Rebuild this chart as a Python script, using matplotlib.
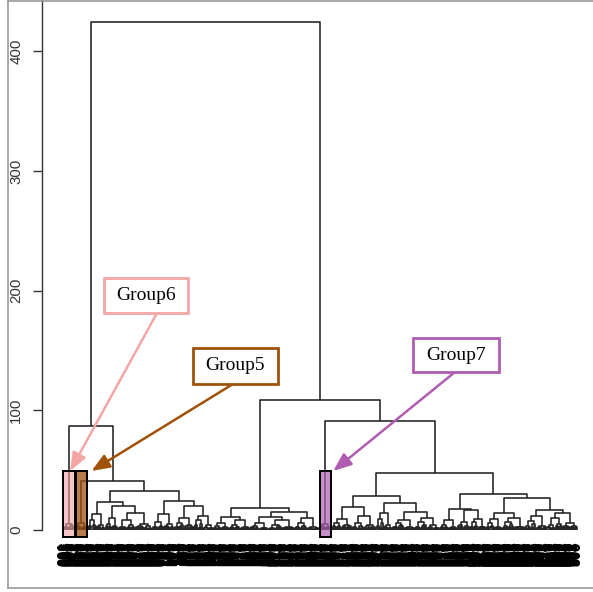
import matplotlib
matplotlib.use("Agg")
import matplotlib.pyplot as plt
from matplotlib.collections import LineCollection
from matplotlib.patches import Rectangle
from matplotlib.lines import Line2D

# ---------------- data ----------------
# terminal (bottom-level) clusters, left to right: number of leaves and top merge height
cluster_sizes = [12, 12, 18, 12, 34, 22, 18, 20,
                 16, 20, 18, 26, 24,
                 12,
                 20, 24, 16, 22, 24, 18, 12, 16, 16, 22, 22, 30]
cluster_heights = [5, 6, 13, 10, 14, 13, 10, 12,
                   6, 8, 6, 8, 10,
                   5,
                   9, 12, 14, 8, 10, 8, 7, 9, 9, 10, 12, 14]
# merges (left id, right id, height); new ids continue after the clusters
merge_left = [3, 2, 6, 5, 27, 1, 0, 8, 10, 34, 33, 14, 17, 16, 37, 20, 19, 22, 24, 43, 42, 40, 13, 36, 32]
merge_right = [4, 26, 7, 28, 29, 30, 31, 9, 11, 12, 35, 15, 18, 38, 39, 21, 41, 23, 25, 44, 45, 46, 47, 48, 49]
merge_height = [20, 23, 20, 24, 32.5, 41, 87, 11, 11, 15, 18, 19, 15, 22.5, 28, 17, 17.5,
                14, 17, 26.5, 30, 47.6, 91, 109, 424]
# relative heights of the fine merges inside each bottom cluster, and their lowest levels
fringe_frac = [0.55, 0.35, 0.7, 0.45, 0.6, 0.3, 0.5, 0.4, 0.65, 0.38, 0.52, 0.28]
fringe_floor = [2.6, 1.8, 3.4, 2.2, 3.0, 1.5, 2.8]

tick_values = [0, 100, 200, 300, 400]
group_names = ["Group6", "Group5", "Group7"]
group_clusters = [0, 1, 13]
group_fill = ["#F4A0A0", "#A0520F", "#B060B0"]
group_alpha = [0.6, 0.75, 0.7]
group_edge = ["#F4A6A6", "#A0520A", "#B05CB0"]

# ---------------- layout ----------------
W, H = 593, 592
fig = plt.figure(figsize=(W / 100, H / 100), dpi=100)
ax_l, ax_r, ax_b, ax_t = 42, 590, 588, 0          # pixel edges (top-origin)
ax = fig.add_axes([ax_l / W, (H - ax_b) / H, (ax_r - ax_l) / W, (ax_b - ax_t) / H])

N = sum(cluster_sizes)
px_first, px_last = 63, 577
s = (px_last - px_first) / (N - 1)
ax.set_xlim(1 - (px_first - ax_l) / s, N + (ax_r - px_last) / s)
ppu = 1.197  # pixels per unit
ax.set_ylim(-(ax_b - 530) / ppu, 530 / ppu)

# ---------------- build dendrogram ----------------
segs = []
cnt = [0, 0]


def child_height(h):
    f = fringe_frac[cnt[0] % len(fringe_frac)]
    fl = fringe_floor[cnt[1] % len(fringe_floor)]
    cnt[0] += 1
    cnt[1] += 1
    c = h * f
    if c < fl:
        c = min(fl, h * 0.8)
    return c


def fringe(first, k, h):
    if k == 1:
        return float(first), 0.0
    kl = (k + 1) // 2
    xl, hl = fringe(first, kl, child_height(h))
    xr, hr = fringe(first + kl, k - kl, child_height(h))
    segs.append([(xl, hl), (xl, h), (xr, h), (xr, hr)])
    return (xl + xr) / 2, h


nodes = {}
cluster_range = {}
first = 1
for i, (k, h) in enumerate(zip(cluster_sizes, cluster_heights)):
    nodes[i] = fringe(first, k, h)
    cluster_range[i] = (first, first + k - 1)
    first += k

nid = len(cluster_sizes)
for a, b, h in zip(merge_left, merge_right, merge_height):
    xa, ha = nodes[a]
    xb, hb = nodes[b]
    segs.append([(xa, ha), (xa, h), (xb, h), (xb, hb)])
    nodes[nid] = ((xa + xb) / 2, h)
    nid += 1

ax.add_collection(LineCollection(segs, colors="#222222", linewidths=1.15, zorder=2))

# leaf labels (rotated, heavily overlapping)
for i in range(1, N + 1):
    ax.text(i, -10.0, f"{i:03d}", rotation=90, ha="center", va="top",
            fontsize=10.4, family="Liberation Sans", fontweight="bold",
            color="black", zorder=1)

# group boxes on the dendrogram
box_top, box_bot = 49.3, -5.8
for gi, ci in enumerate(group_clusters):
    f0, f1 = cluster_range[ci]
    x0, x1 = f0 + 0.4, f1 + 0.6
    ax.add_patch(Rectangle((x0, box_bot), x1 - x0, box_top - box_bot,
                           facecolor=group_fill[gi], alpha=group_alpha[gi], edgecolor="none", zorder=3))
    ax.add_patch(Rectangle((x0, box_bot), x1 - x0, box_top - box_bot,
                           facecolor="none", edgecolor="black", lw=1.4, zorder=4))

# axes styling
for sp in ["top", "right", "bottom"]:
    ax.spines[sp].set_visible(False)
ax.spines["left"].set_bounds(0, 530 / ppu)
ax.spines["left"].set_color("#333333")
ax.spines["left"].set_linewidth(1.0)
ax.set_xticks([])
ax.set_yticks(tick_values)
ax.set_yticklabels([str(v) for v in tick_values])
ax.tick_params(axis="y", length=6.5, width=1.0, pad=7, labelsize=10.8,
               color="#333333", labelcolor="#333333", labelrotation=90)
for lbl in ax.get_yticklabels():
    lbl.set_va("center")
    lbl.set_family("Liberation Sans")

# annotation boxes (pixel layout, top-origin)
ann_box = [(104, 278, 188, 313), (193, 348, 278, 384), (413, 338, 499, 372)]
ann_start = [(157, 313), (233, 384), (455, 372)]
for gi, ci in enumerate(group_clusters):
    f0, f1 = cluster_range[ci]
    if gi == 0:
        tip = ((f0 + f1) / 2 + 1.5, box_top)
    elif gi == 1:
        tip = (f1 + 5.0, box_top)
    else:
        tip = (f1 + 2.5, box_top)
    sx, sy = ann_start[gi]
    ax.annotate("", xy=tip, xycoords="data", xytext=(sx, H - sy), textcoords="figure pixels",
                arrowprops=dict(arrowstyle="-|>,head_length=0.55,head_width=0.22",
                                color=group_edge[gi], lw=1.8, shrinkA=0, shrinkB=0,
                                mutation_scale=20), zorder=5)
    x0, y0, x1, y1 = ann_box[gi]
    fig.add_artist(Rectangle((x0 / W, (H - y1) / H), (x1 - x0) / W, (y1 - y0) / H,
                             transform=fig.transFigure, facecolor="white",
                             edgecolor=group_edge[gi], lw=2.0, zorder=6))
    fig.text((x0 + x1) / 2 / W, (H - (y0 + y1) / 2) / H, group_names[gi],
             ha="center", va="center", fontsize=14, family="Liberation Serif",
             color="black", zorder=7)

# outer frame (gray)
frame_c = "#9a9a9a"
fig.add_artist(Line2D([7.5 / W, 7.5 / W], [(H - 588) / H, 1.0], transform=fig.transFigure, color=frame_c, lw=1.2))
fig.add_artist(Line2D([7.5 / W, 1.0], [(H - 588) / H, (H - 588) / H], transform=fig.transFigure, color=frame_c, lw=1.2))
fig.add_artist(Line2D([7.5 / W, 1.0], [1 - 0.5 / H, 1 - 0.5 / H], transform=fig.transFigure, color=frame_c, lw=1.2))

fig.savefig("out.png", dpi=100)
